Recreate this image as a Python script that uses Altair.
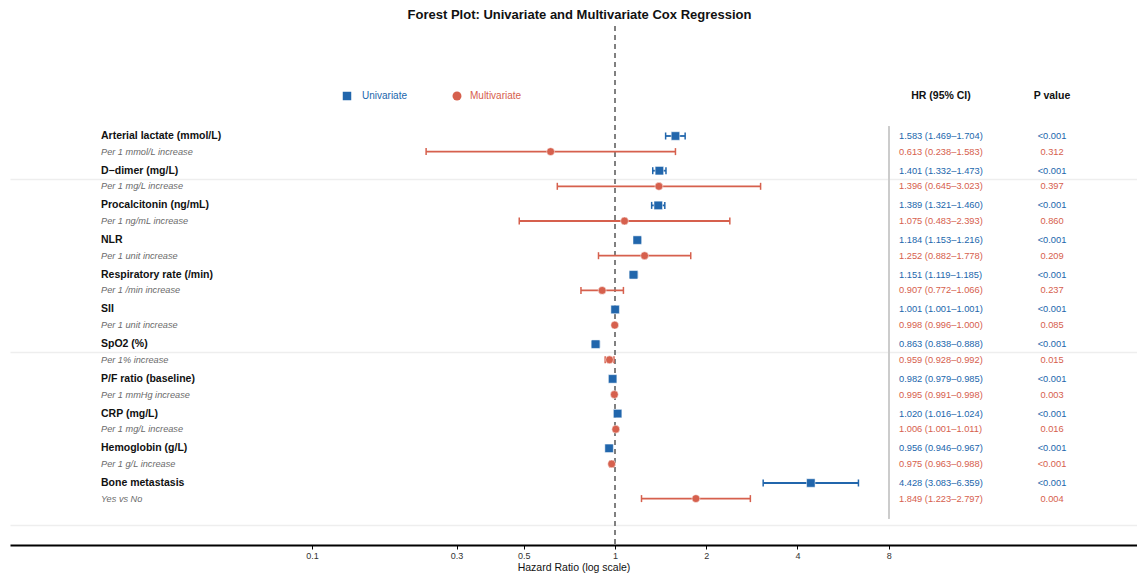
import altair as alt
import pandas as pd

variables = ["Arterial lactate (mmol/L)", "D\u2212dimer (mg/L)", "Procalcitonin (ng/mL)", "NLR",
             "Respiratory rate (/min)", "SII", "SpO2 (%)", "P/F ratio (baseline)", "CRP (mg/L)",
             "Hemoglobin (g/L)", "Bone metastasis"]
units = ["Per 1 mmol/L increase", "Per 1 mg/L increase", "Per 1 ng/mL increase", "Per 1 unit increase",
         "Per 1 /min increase", "Per 1 unit increase", "Per 1% increase", "Per 1 mmHg increase",
         "Per 1 mg/L increase", "Per 1 g/L increase", "Yes vs No"]

uni_hr = [1.583, 1.401, 1.389, 1.184, 1.151, 1.001, 0.863, 0.982, 1.020, 0.956, 4.428]
uni_lo = [1.469, 1.332, 1.321, 1.153, 1.119, 1.001, 0.838, 0.979, 1.016, 0.946, 3.083]
uni_hi = [1.704, 1.473, 1.460, 1.216, 1.185, 1.001, 0.888, 0.985, 1.024, 0.967, 6.359]
uni_p = ["<0.001"] * 11

multi_hr = [0.613, 1.396, 1.075, 1.252, 0.907, 0.998, 0.959, 0.995, 1.006, 0.975, 1.849]
multi_lo = [0.238, 0.645, 0.483, 0.882, 0.772, 0.996, 0.928, 0.991, 1.001, 0.963, 1.223]
multi_hi = [1.583, 3.023, 2.393, 1.778, 1.066, 1.000, 0.992, 0.998, 1.011, 0.988, 2.797]
multi_p = ["0.312", "0.397", "0.860", "0.209", "0.237", "0.085", "0.015", "0.003", "0.016", "<0.001", "0.004"]

models = ["Univariate", "Multivariate"]
x_ticks = [0.1, 0.3, 0.5, 1, 2, 4, 8]

BLUE = "#2166ac"
RED = "#d6604d"
FONT = "Liberation Sans"

rows = []
n = len(variables)
for i in range(n):
    g = n - i
    rows.append(dict(row=g + 0.225, model="Univariate", hr=uni_hr[i], lo=uni_lo[i], hi=uni_hi[i],
                     p=uni_p[i], label=variables[i],
                     hrtext=f"{uni_hr[i]:.3f} ({uni_lo[i]:.3f}\u2013{uni_hi[i]:.3f})"))
    rows.append(dict(row=g - 0.225, model="Multivariate", hr=multi_hr[i], lo=multi_lo[i], hi=multi_hi[i],
                     p=multi_p[i], label=units[i],
                     hrtext=f"{multi_hr[i]:.3f} ({multi_lo[i]:.3f}\u2013{multi_hi[i]:.3f})"))
df = pd.DataFrame(rows)

XT = "Hazard Ratio (log scale)"
x_scale = alt.Scale(type="log", domain=[0.010076, 52.81], nice=False)
y_scale = alt.Scale(domain=[-0.562, 14.395], nice=False, zero=False)
x_axis = alt.Axis(values=x_ticks, labelExpr="format(datum.value, '~g')", grid=False, title=XT)
y_axis = alt.Axis(values=[0, 5, 10], labels=False, ticks=False, domain=False, grid=True, title=None)
color = alt.Color("model:N", scale=alt.Scale(domain=models, range=[BLUE, RED]), legend=None)

base = alt.Chart(df)
Y = alt.Y("row:Q", scale=y_scale, axis=y_axis)

ref_line = base.mark_rule(color="#808080", strokeDash=[5, 4], strokeWidth=1.5).encode(
    x=alt.datum(1, scale=x_scale, axis=x_axis))

sep_line = base.mark_rule(color="#cccccc", strokeWidth=1.2).encode(
    x=alt.datum(8), y=alt.datum(0.2, scale=y_scale, axis=y_axis), y2=alt.datum(11.5))

ci = base.mark_rule(strokeWidth=1.8).encode(
    x=alt.X("lo:Q", scale=x_scale, axis=x_axis, title=XT), x2="hi:Q", y=Y, color=color)

cap_lo = base.mark_point(shape="M0,-1L0,1", size=49, filled=False, strokeWidth=1.5, opacity=1).encode(
    x=alt.X("lo:Q", scale=x_scale, axis=x_axis, title=XT), y=Y, color=color)
cap_hi = base.mark_point(shape="M0,-1L0,1", size=49, filled=False, strokeWidth=1.5, opacity=1).encode(
    x=alt.X("hi:Q", scale=x_scale, axis=x_axis, title=XT), y=Y, color=color)

pts_uni = base.transform_filter(alt.datum.model == "Univariate").mark_point(
    shape="square", size=72, filled=True, opacity=1, stroke="white", strokeWidth=0.5).encode(
    x=alt.X("hr:Q", scale=x_scale, axis=x_axis, title=XT), y=Y, color=color)
pts_multi = base.transform_filter(alt.datum.model == "Multivariate").mark_point(
    shape="circle", size=62, filled=True, opacity=1, stroke="white", strokeWidth=0.5).encode(
    x=alt.X("hr:Q", scale=x_scale, axis=x_axis, title=XT), y=Y, color=color)

var_lbl = base.transform_filter(alt.datum.model == "Univariate").mark_text(
    align="left", baseline="middle", font=FONT, fontSize=10.5, fontWeight="bold", color="#111111").encode(
    x=alt.value(91), y=Y, text="label:N")
sub_lbl = base.transform_filter(alt.datum.model == "Multivariate").mark_text(
    align="left", baseline="middle", font=FONT, fontSize=9.2, fontStyle="italic", color="#6a6a6a").encode(
    x=alt.value(91), y=Y, text="label:N")

hr_txt = base.mark_text(align="left", baseline="middle", font=FONT, fontSize=9.3).encode(
    x=alt.value(889), y=Y, text="hrtext:N", color=color)
p_txt = base.mark_text(align="center", baseline="middle", font=FONT, fontSize=9.3).encode(
    x=alt.value(1042), y=Y, text="p:N", color=color)

one = alt.Chart(pd.DataFrame({"k": [0]}))
hdr_hr = one.mark_text(text="HR (95% CI)", font=FONT, fontSize=10.5, fontWeight="bold", color="#111111",
                       align="center", baseline="middle").encode(x=alt.value(931), y=alt.value(70))
hdr_p = one.mark_text(text="P value", font=FONT, fontSize=10.5, fontWeight="bold", color="#111111",
                      align="center", baseline="middle").encode(x=alt.value(1042), y=alt.value(70))

leg_sq = one.mark_point(shape="square", size=72, filled=True, opacity=1, color=BLUE).encode(
    x=alt.value(337), y=alt.value(70))
leg_sq_t = one.mark_text(text=models[0], font=FONT, fontSize=10, color=BLUE, align="left",
                         baseline="middle").encode(x=alt.value(352), y=alt.value(70))
leg_ci = one.mark_point(shape="circle", size=80, filled=True, opacity=1, color=RED).encode(
    x=alt.value(447), y=alt.value(70))
leg_ci_t = one.mark_text(text=models[1], font=FONT, fontSize=10, color=RED, align="left",
                         baseline="middle").encode(x=alt.value(460), y=alt.value(70))

chart = alt.layer(
    ref_line, sep_line, ci, cap_lo, cap_hi, pts_uni, pts_multi,
    var_lbl, sub_lbl, hr_txt, p_txt, hdr_hr, hdr_p, leg_sq, leg_sq_t, leg_ci, leg_ci_t
).properties(
    width=1127, height=519,
    padding={"left": 2, "right": 0, "top": 0, "bottom": 0},
    background="white",
    title=alt.TitleParams("Forest Plot: Univariate and Multivariate Cox Regression", font=FONT,
                          fontSize=13, fontWeight="bold", color="#111111", anchor="middle",
                          offset=3.5, dx=6),
).configure_view(stroke="transparent").configure_axisX(
    domainColor="black", domainWidth=2, tickColor="black", tickSize=4, tickWidth=1,
    labelFont=FONT, labelFontSize=9, labelColor="#333333", labelPadding=2,
    titleFont=FONT, titleFontSize=10.5, titleFontWeight="normal", titleColor="#111111", titlePadding=2,
).configure_axisY(gridColor="#eeeeee", gridWidth=1.5)

chart.save("out.html", embed_options={"renderer": "svg", "actions": False})
